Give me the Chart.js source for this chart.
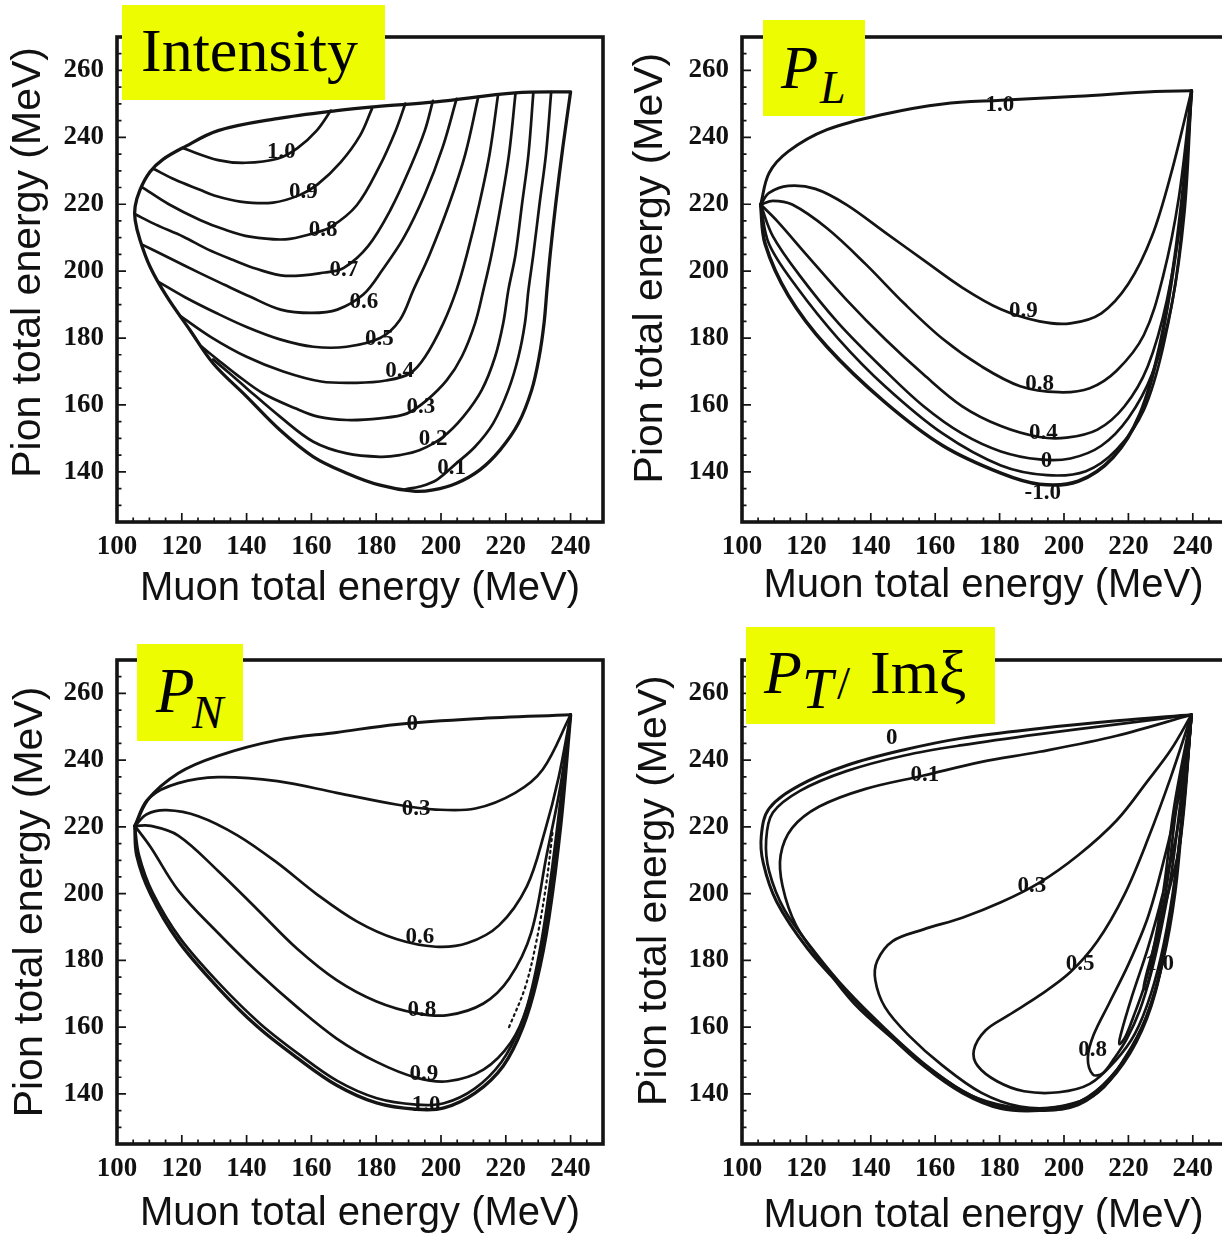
<!DOCTYPE html>
<html>
<head>
<meta charset="utf-8">
<script src="https://cdn.jsdelivr.net/npm/chart.js@4.4.0/dist/chart.umd.min.js"></script>
<style>
html,body{margin:0;padding:0;background:#fff;overflow:hidden;width:1222px;height:1234px;}
.panel{position:absolute;width:620px;height:620px;}
.tag{position:absolute;background:rgb(237,252,0);z-index:5;}
.tag span{position:absolute;font-family:"Liberation Serif","Times New Roman",serif;color:#000;line-height:1;white-space:nowrap;}
.it{font-style:italic;}
</style>
</head>
<body>
<div class="panel" style="left:0;top:0"><canvas id="c1" width="620" height="620"></canvas></div>
<div class="panel" style="left:625px;top:0"><canvas id="c2" width="620" height="620"></canvas></div>
<div class="panel" style="left:0;top:622px"><canvas id="c3" width="620" height="620"></canvas></div>
<div class="panel" style="left:625px;top:622px"><canvas id="c4" width="620" height="620"></canvas></div>

<div class="tag" style="left:122px;top:5px;width:263px;height:95px;"><span style="left:19px;top:14px;font-size:62px;">Intensity</span></div>
<div class="tag" style="left:763px;top:20px;width:102px;height:96px;"><span class="it" style="left:18px;top:17px;font-size:61px;">P</span><span class="it" style="left:57px;top:45px;font-size:46px;">L</span></div>
<div class="tag" style="left:137px;top:644px;width:106px;height:97px;"><span class="it" style="left:19px;top:16px;font-size:63px;">P</span><span class="it" style="left:55px;top:45px;font-size:47px;">N</span></div>
<div class="tag" style="left:746px;top:627px;width:249px;height:97px;"><span class="it" style="left:18px;top:14px;font-size:62px;">P</span><span class="it" style="left:56px;top:34px;font-size:56px;">T</span><span style="left:91px;top:33px;font-size:47px;">/</span><span style="left:124px;top:14px;font-size:62px;">Imξ</span></div>

<script>
// ---------- axis ticks ----------
const xTicks = [100, 120, 140, 160, 180, 200, 220, 240];
const yTicks = [140, 160, 180, 200, 220, 240, 260];
const xTitle = 'Muon total energy (MeV)';
const yTitle = 'Pion total energy (MeV)';

// ---------- Panel 1: Intensity ----------
const intBoundary = [[240,253.6],[222.9,253.3],[198.4,250.6],[180,249.2],[167.8,248],[149.5,245.6],[131.2,242],[120.2,236.8],[114.2,233.4],[110.2,229.7],[107.1,224.3],[105.6,219.3],[105.6,215.3],[107.1,209.3],[110.2,201.3],[115.3,192.5],[122.5,182.4],[129.7,172.4],[140,162.5],[150.3,152.5],[160.6,144.5],[170.9,139.6],[181.2,136],[191.5,134.2],[197.6,134.6],[204.8,136.6],[212,140.6],[218.2,146.5],[223.9,154.5],[228,164.5],[230.3,174.4],[231.8,184.4],[232.7,194.4],[233.7,205],[235.4,220],[237.6,237],[240,253.6]];
const int10 = [[166,248],[161.7,242.1],[155.6,236.7],[149.5,233.6],[139.7,232.4],[131.2,233.2],[120.2,236.8]];
const int09 = [[178.7,248.6],[175,240.5],[169,232.5],[162,226],[156.5,222.8],[148.2,220.5],[138,220.8],[130,222.6],[125.6,224.3],[118,227.3],[111.2,230.6]];
const int08 = [[189,250.1],[186,242],[181,231.3],[174,219.7],[166,213.2],[160.6,211.3],[152,209.5],[141,210.3],[133,212.5],[125.6,215.3],[116,220],[107.6,225.2]];
const int07 = [[197.5,250.9],[195,242],[190.5,231],[184.5,218.5],[177.5,207.5],[170,201],[164.2,199.6],[152,198.6],[143,200.7],[135.9,203.3],[128,206.5],[120.5,210.3],[112,213.9],[105.6,217]];
const int06 = [[204.8,251.5],[200.5,237],[195,223],[188.5,210],[182,200.5],[176,193],[168,188.5],[160,187.5],[150.5,188.5],[141,192.4],[133,196],[125.6,199.4],[116,204],[107.6,208]];
const int05 = [[211.5,252.1],[207.5,235],[202.5,220],[196.5,205],[191.5,194.4],[187.3,185.4],[181.2,180],[170.9,177.4],[160.6,177.4],[150.3,179.6],[140,183.3],[130.8,187.4],[121,192.2],[112.8,196.8]];
const int04 = [[217.6,252.7],[215,235],[211.8,220],[208,205],[204.8,194.4],[200.7,184.4],[195.1,174.4],[190.4,169.4],[183,167.3],[174,166.6],[163,167],[151.3,170],[140,174.4],[129,180.3],[119.4,186.7]];
const int03 = [[223,253.2],[221,235],[218.5,220],[215.6,205],[213.1,194.4],[210.5,184.4],[206.4,174.4],[201.8,167.4],[195.6,161.4],[189.4,157.4],[181.2,156],[170.9,155.5],[162,156.5],[155,159],[145,163.5],[137,169],[131,173.6],[126,177.5]];
const int02 = [[228.5,253.4],[227,235],[225,220],[223,205],[220.8,194.4],[219.2,184.4],[216.7,174.4],[212.6,164.5],[206.9,156.5],[200.7,150.5],[193.5,146.5],[187.3,145],[181.2,144.5],[170.9,145.5],[160.6,149],[150.3,156.5],[140,165],[134.9,169.3],[129.7,173.6]];
const int01 = [[234,253.5],[232.4,235],[230.4,220],[228.5,205],[227,194.4],[225.9,184.4],[223.9,174.4],[220.8,164.5],[216.1,154.5],[210.5,147.5],[204.8,142.6],[198.7,137.6],[193.5,135.6],[189,134.8]];
const intLabels = [[150.7,235.6,'1.0'],[157.5,223.6,'0.9'],[163.6,212.2,'0.8'],[170,200.4,'0.7'],[176.2,190.8,'0.6'],[181,179.8,'0.5'],[187.2,170.1,'0.4'],[193.8,159.5,'0.3'],[197.6,149.8,'0.2'],[203.3,141,'0.1']];

// ---------- Panel 2: P_L ----------
const plP10 = [[105.8,219.9],[108.4,229.3],[114.4,235.8],[126.4,242.3],[144.4,247],[162.4,250],[180.4,251.1],[204.4,252.3],[228.4,253.7],[239.6,253.9]];
const plP09 = [[105.8,219.9],[108.4,223.4],[114.4,225.5],[122.8,224.6],[132.4,219.9],[144.4,211.6],[156.4,203.3],[168.4,195.1],[180.4,188.6],[192.4,185],[202,184.4],[211.6,187.4],[220,196.2],[227.3,210.4],[233.3,229.3],[239.6,253.9]];
const plP08 = [[105.8,219.9],[109.6,221],[115.6,219.9],[126.4,212.8],[138.4,202.1],[150.4,190.3],[162.4,179.7],[174.4,171.5],[186.4,165.6],[198.4,163.8],[208,165],[216.4,170.3],[224.8,180.9],[230.8,198.6],[235.7,222.2],[239.6,253.9]];
const plP04 = [[105.8,219.9],[110.8,215.1],[120.4,204.5],[132.4,191.5],[144.4,179.7],[156.4,169.1],[168.4,159.6],[180.4,153.7],[192.4,150.4],[200.8,150.2],[210.4,152.6],[218.8,159.6],[226,171.5],[232,191.5],[236.8,219.9],[239.6,253.9]];
const plP00 = [[105.8,219.9],[109.6,210.4],[118,198.6],[130,184.4],[144.4,170.3],[156.4,159.6],[168.4,151.4],[180.4,146.1],[192.4,143.7],[202,144],[211.6,147.8],[220,156.1],[227.3,169.1],[233.3,189.2],[237.4,217.5],[239.6,253.9]];
const plM05 = [[105.8,219.9],[108.4,208.1],[117.1,195.1],[130,179.7],[144.4,165.6],[162.4,151.4],[180.4,141.9],[194.8,139],[206.8,140.2],[216.4,146.7],[224.8,158.5],[230.8,177.4],[235.7,204.5],[239.6,253.9]];
const plM10 = [[105.8,219.9],[107.2,208.1],[114.4,192.7],[126.4,177.4],[144.4,160.8],[162.4,147.8],[180.4,139.6],[192.4,136.3],[204.4,137.2],[215.2,144.3],[223.6,157.3],[229.7,177.4],[234.5,204.5],[238,234],[239.6,253.9]];
const plLabels = [[180.1,249.6,'1.0'],[187.4,188.2,'0.9'],[192.4,166.1,'0.8'],[193.6,151.6,'0.4'],[194.6,143.3,'0'],[193.4,133.7,'-1.0']];

// ---------- Panel 3: P_N ----------
const pn00 = [[105.5,220.3],[109.2,227.9],[118.9,236.1],[131.2,241.3],[149.5,246],[167.8,248.3],[186.2,250.7],[210.6,252.4],[240,253.6]];
const pn03 = [[105.5,220.3],[110.4,229],[118.9,233.1],[131.2,234.9],[149.5,233.7],[167.8,230.2],[186.2,226.7],[198.4,225.2],[210.6,225.5],[222.9,230.2],[231.4,237.2],[240,253.6]];
const pn06 = [[105.5,220.3],[109.2,223.8],[115.3,225],[125.1,223.2],[137.3,217.4],[149.5,209.2],[161.7,199.8],[174,191.7],[186.2,186.4],[198.4,184.1],[208.2,185.2],[217.9,190.5],[226.5,202.2],[232,218.5],[236.3,234.8],[240,253.6]];
const pn08 = [[105.5,220.3],[110.4,220.3],[118.9,217.4],[131.2,206.8],[143.4,195.2],[155.6,183.5],[167.8,174.1],[180.1,167.7],[192.3,164.2],[202.1,163.6],[213.1,167.1],[221,174.5],[227.8,188.2],[232.6,211.5],[236.9,232.5],[240,253.6]];
const pn09 = [[105.5,220.3],[110.4,213.9],[118.9,201],[131.2,188.2],[143.4,176.5],[155.6,166],[167.8,156.6],[180.1,149.6],[192.3,144.9],[202.1,143.8],[213.1,147.3],[221.6,155.5],[226.5,166],[230.8,184.6],[234.5,209.2],[240,253.6]];
const pn10a = [[105.5,220.3],[106.8,211.5],[111,200.3],[119.5,186.6],[131.8,172.8],[144,161.2],[156,152],[168,143.9],[180.2,138.7],[192.3,136.8],[200.9,137.2],[210.4,141.6],[218.6,149.5],[224.6,160.5],[229,174.3],[232.7,193],[236.4,221],[240,253.6]];
const pn10 = [[105.5,220.3],[106.1,211.5],[110.4,199.8],[118.9,185.8],[131.2,171.8],[143.4,160.1],[155.6,150.8],[167.8,142.6],[180.1,137.3],[192.3,135.4],[200.9,135.8],[210.6,140.3],[219.2,148.4],[225.3,160.1],[229.6,174.1],[233.3,192.8],[237,220.9],[240,253.6]];
const pnDots = [[221,160],[226,172],[229.5,186],[232.5,203],[234.5,219]];
const pnLabels = [[191.1,250.7,'0'],[192.3,225.2,'0.3'],[193.5,187,'0.6'],[194.1,165.1,'0.8'],[194.7,146.1,'0.9'],[195.4,136.7,'1.0']];

// ---------- Panel 4: P_T / Im xi ----------
const pt00a = [[239.6,253.6],[216.4,251.8],[192.4,249.5],[168.4,246.6],[150.4,243.1],[132.4,238.4],[118,232.5],[108.4,225.5],[106,217.4],[106.6,209.2],[110.8,197.5],[120.4,183.5],[132.4,170.6],[144.4,158.9],[156.4,148.4],[168.4,140.3],[180.4,135.6],[192.4,135],[204.4,136.7],[214,143.8],[222.4,155.5],[228.4,170.6],[233.2,194],[236.8,223.2],[239.6,253.6]];
const pt00b = [[239.6,253.6],[216.4,250.7],[192.4,247.8],[168.4,244.5],[150.4,241.4],[132.4,236.7],[118,230.8],[109.6,224.3],[107.5,216.2],[108.4,206.8],[113.2,195.1],[122.8,182.3],[132.4,171.2],[144.4,159.6],[156.4,149.2],[168.4,141],[180.4,136.2],[192.4,135.5],[204.4,137.4],[214,144.5],[222.4,156.3],[228.4,171.5],[233.2,195],[236.8,224],[239.6,253.6]];
const pt01 = [[239.6,253.6],[216.4,247.3],[192.4,242.5],[174.4,239.5],[156.4,235.4],[138.4,231.4],[124,226.1],[115.6,219.7],[112,211.5],[112.6,202.2],[116.8,190.5],[125.2,178.8],[134.8,167.1],[146.8,156.6],[158.8,147.3],[170.8,139.7],[182.8,136.2],[194,135.6],[205,137.8],[214.5,145],[222.8,156.8],[228.7,172],[233.4,195.5],[237,224.5],[239.6,253.6]];
const pt03 = [[239.6,253.6],[233.2,243.1],[226,233.8],[216.4,222],[204.4,211.5],[192.4,203.3],[180.4,197.4],[168.4,192.8],[156.4,189.3],[146.8,185.8],[142,179.9],[141.4,174.1],[144.4,166],[151.6,157.7],[162.4,148.4],[174.4,140.3],[186.4,136.2],[198.4,136.2],[210.4,140.3],[219,151],[225.5,163],[230.8,180],[234.5,200],[237,225],[239.6,253.6]];
const pt05 = [[239.6,253.6],[233.2,235],[226,216.2],[218.8,199.8],[210.4,185.8],[202,176.5],[192.4,169.5],[182.8,163.6],[175.6,159],[172,153.1],[173.2,148.4],[179.2,143.8],[187.6,140.8],[198.4,140.5],[208,143],[216,150],[222,158],[227,170],[231,185],[234.5,205],[237.3,230],[239.6,253.6]];
const pt08 = [[239.6,253.6],[235.6,229.2],[230.8,209.2],[226,192.8],[220,178.8],[214,167.1],[209.2,157.7],[207.4,150.8],[209,145.8],[212,146.2],[215.5,150.5],[219.5,156.5],[223.5,165],[227,176],[230.3,190],[233.5,207],[236.5,230],[239.6,253.6]];
const pt10a = [[239.6,253.6],[235.6,221.4],[230.8,200.4],[226,183.5],[221.2,169.5],[217.6,157.7],[217.2,154.9],[219,157],[221.5,163],[225,172.5],[228.3,186],[231.2,203],[234.2,226],[239.6,253.6]];
const pt10b = [[239.6,253.6],[236.2,216.2],[231.8,198],[227.6,182.9],[224.8,172.4],[225.4,171.3],[227.3,178],[229.7,190],[232.3,205],[234.8,225],[239.6,253.6]];
const ptLabels = [[146.5,246.5,'0'],[156.8,235.5,'0.1'],[190,202.4,'0.3'],[205,179,'0.5'],[208.9,153.1,'0.8'],[229.7,179,'1.0']];

// ---------- helpers ----------
const INK = '#141414';
function line(data, width, dash) {
  return {data: data, showLine: true, pointRadius: 0, pointHoverRadius: 0, borderColor: INK,
          borderWidth: width || 2.7, tension: 0.35, fill: false, borderDash: dash || [],
          borderCapStyle: 'round', borderJoinStyle: 'round'};
}

const framePlugin = {
  id: 'frame',
  afterDraw(chart) {
    const ctx = chart.ctx, a = chart.chartArea, xs = chart.scales.x, ys = chart.scales.y;
    ctx.save();
    ctx.strokeStyle = INK;
    ctx.lineWidth = 1.7;
    ctx.beginPath();
    for (let v = xs.min; v <= xs.max; v += 5) {
      const px = xs.getPixelForValue(v);
      const len = xTicks.includes(v) ? 9 : 4.5;
      ctx.moveTo(px, a.bottom); ctx.lineTo(px, a.bottom - len);
    }
    for (let v = ys.min; v <= ys.max; v += 5) {
      const py = ys.getPixelForValue(v);
      const len = yTicks.includes(v) ? 9 : 4.5;
      ctx.moveTo(a.left, py); ctx.lineTo(a.left + len, py);
    }
    ctx.stroke();
    ctx.lineWidth = 3.6;
    ctx.strokeRect(a.left, a.top, a.right - a.left, a.bottom - a.top);
    ctx.restore();
  }
};

const labelPlugin = {
  id: 'contourLabels',
  afterDatasetsDraw(chart, args, opts) {
    const ctx = chart.ctx, xs = chart.scales.x, ys = chart.scales.y;
    ctx.save();
    ctx.font = 'bold 23px "Liberation Serif", "Times New Roman", serif';
    ctx.fillStyle = '#111';
    ctx.textAlign = 'center';
    ctx.textBaseline = 'middle';
    (opts.labels || []).forEach(l => ctx.fillText(l[2], xs.getPixelForValue(l[0]), ys.getPixelForValue(l[1])));
    ctx.restore();
  }
};

function makeChart(id, datasets, labels, cfg) {
  const tickFont = {family: '"Liberation Serif", "Times New Roman", serif', weight: 'bold', size: 27};
  const xTitleFont = {family: '"Liberation Sans", Arial, sans-serif', size: 40, lineHeight: 1};
  const yTitleFont = {family: '"Liberation Sans", Arial, sans-serif', size: 41, lineHeight: 1};
  return new Chart(document.getElementById(id), {
    type: 'scatter',
    data: {datasets: datasets},
    options: {
      responsive: false, animation: false, devicePixelRatio: 1, events: [],
      layout: {padding: {left: 0, top: cfg.top, right: cfg.right, bottom: 0}},
      plugins: {legend: {display: false}, tooltip: {enabled: false}, contourLabels: {labels: labels}},
      scales: {
        x: {
          type: 'linear', min: 100, max: 250,
          afterBuildTicks: s => { s.ticks = xTicks.map(v => ({value: v})); },
          afterFit: s => { s.height = 98; },
          grid: {display: false, drawTicks: false}, border: {display: false},
          ticks: {font: tickFont, color: '#111', padding: 9, maxRotation: 0, autoSkip: false},
          title: {display: true, text: xTitle, font: xTitleFont, color: '#111', padding: {top: 0, bottom: cfg.xtp}}
        },
        y: {
          type: 'linear', min: 125, max: 270,
          afterBuildTicks: s => { s.ticks = yTicks.map(v => ({value: v})); },
          afterFit: s => { s.width = 117; },
          grid: {display: false, drawTicks: false}, border: {display: false},
          ticks: {font: tickFont, color: '#111', padding: 13, autoSkip: false},
          title: {display: true, text: ' '.repeat(cfg.shift) + yTitle, font: yTitleFont, color: '#111', padding: {top: cfg.ytp, bottom: 0}}
        }
      }
    },
    plugins: [labelPlugin, framePlugin]
  });
}

makeChart('c1', [
  line(intBoundary, 3.3), line(int10), line(int09), line(int08), line(int07), line(int06),
  line(int05), line(int04), line(int03), line(int02), line(int01)
], intLabels, {top: 37, right: 17, xtp: 11, ytp: 8, shift: 3});

makeChart('c2', [
  line(plP10, 3), line(plP09), line(plP08), line(plP04), line(plP00), line(plM05), line(plM10, 3.6)
], plLabels, {top: 37, right: 20, xtp: 14, ytp: 5, shift: 2});

makeChart('c3', [
  line(pn00, 3), line(pn03), line(pn06), line(pn08), line(pn09), line(pn10a), line(pn10, 3.4),
  line(pnDots, 2.2, [2, 4])
], pnLabels, {top: 38, right: 17, xtp: 8, ytp: 10, shift: 0});

makeChart('c4', [
  line(pt00a, 3), line(pt00b), line(pt01), line(pt03), line(pt05), line(pt08), line(pt10a), line(pt10b)
], ptLabels, {top: 38, right: 20, xtp: 6, ytp: 9, shift: 2});
</script>
</body>
</html>
